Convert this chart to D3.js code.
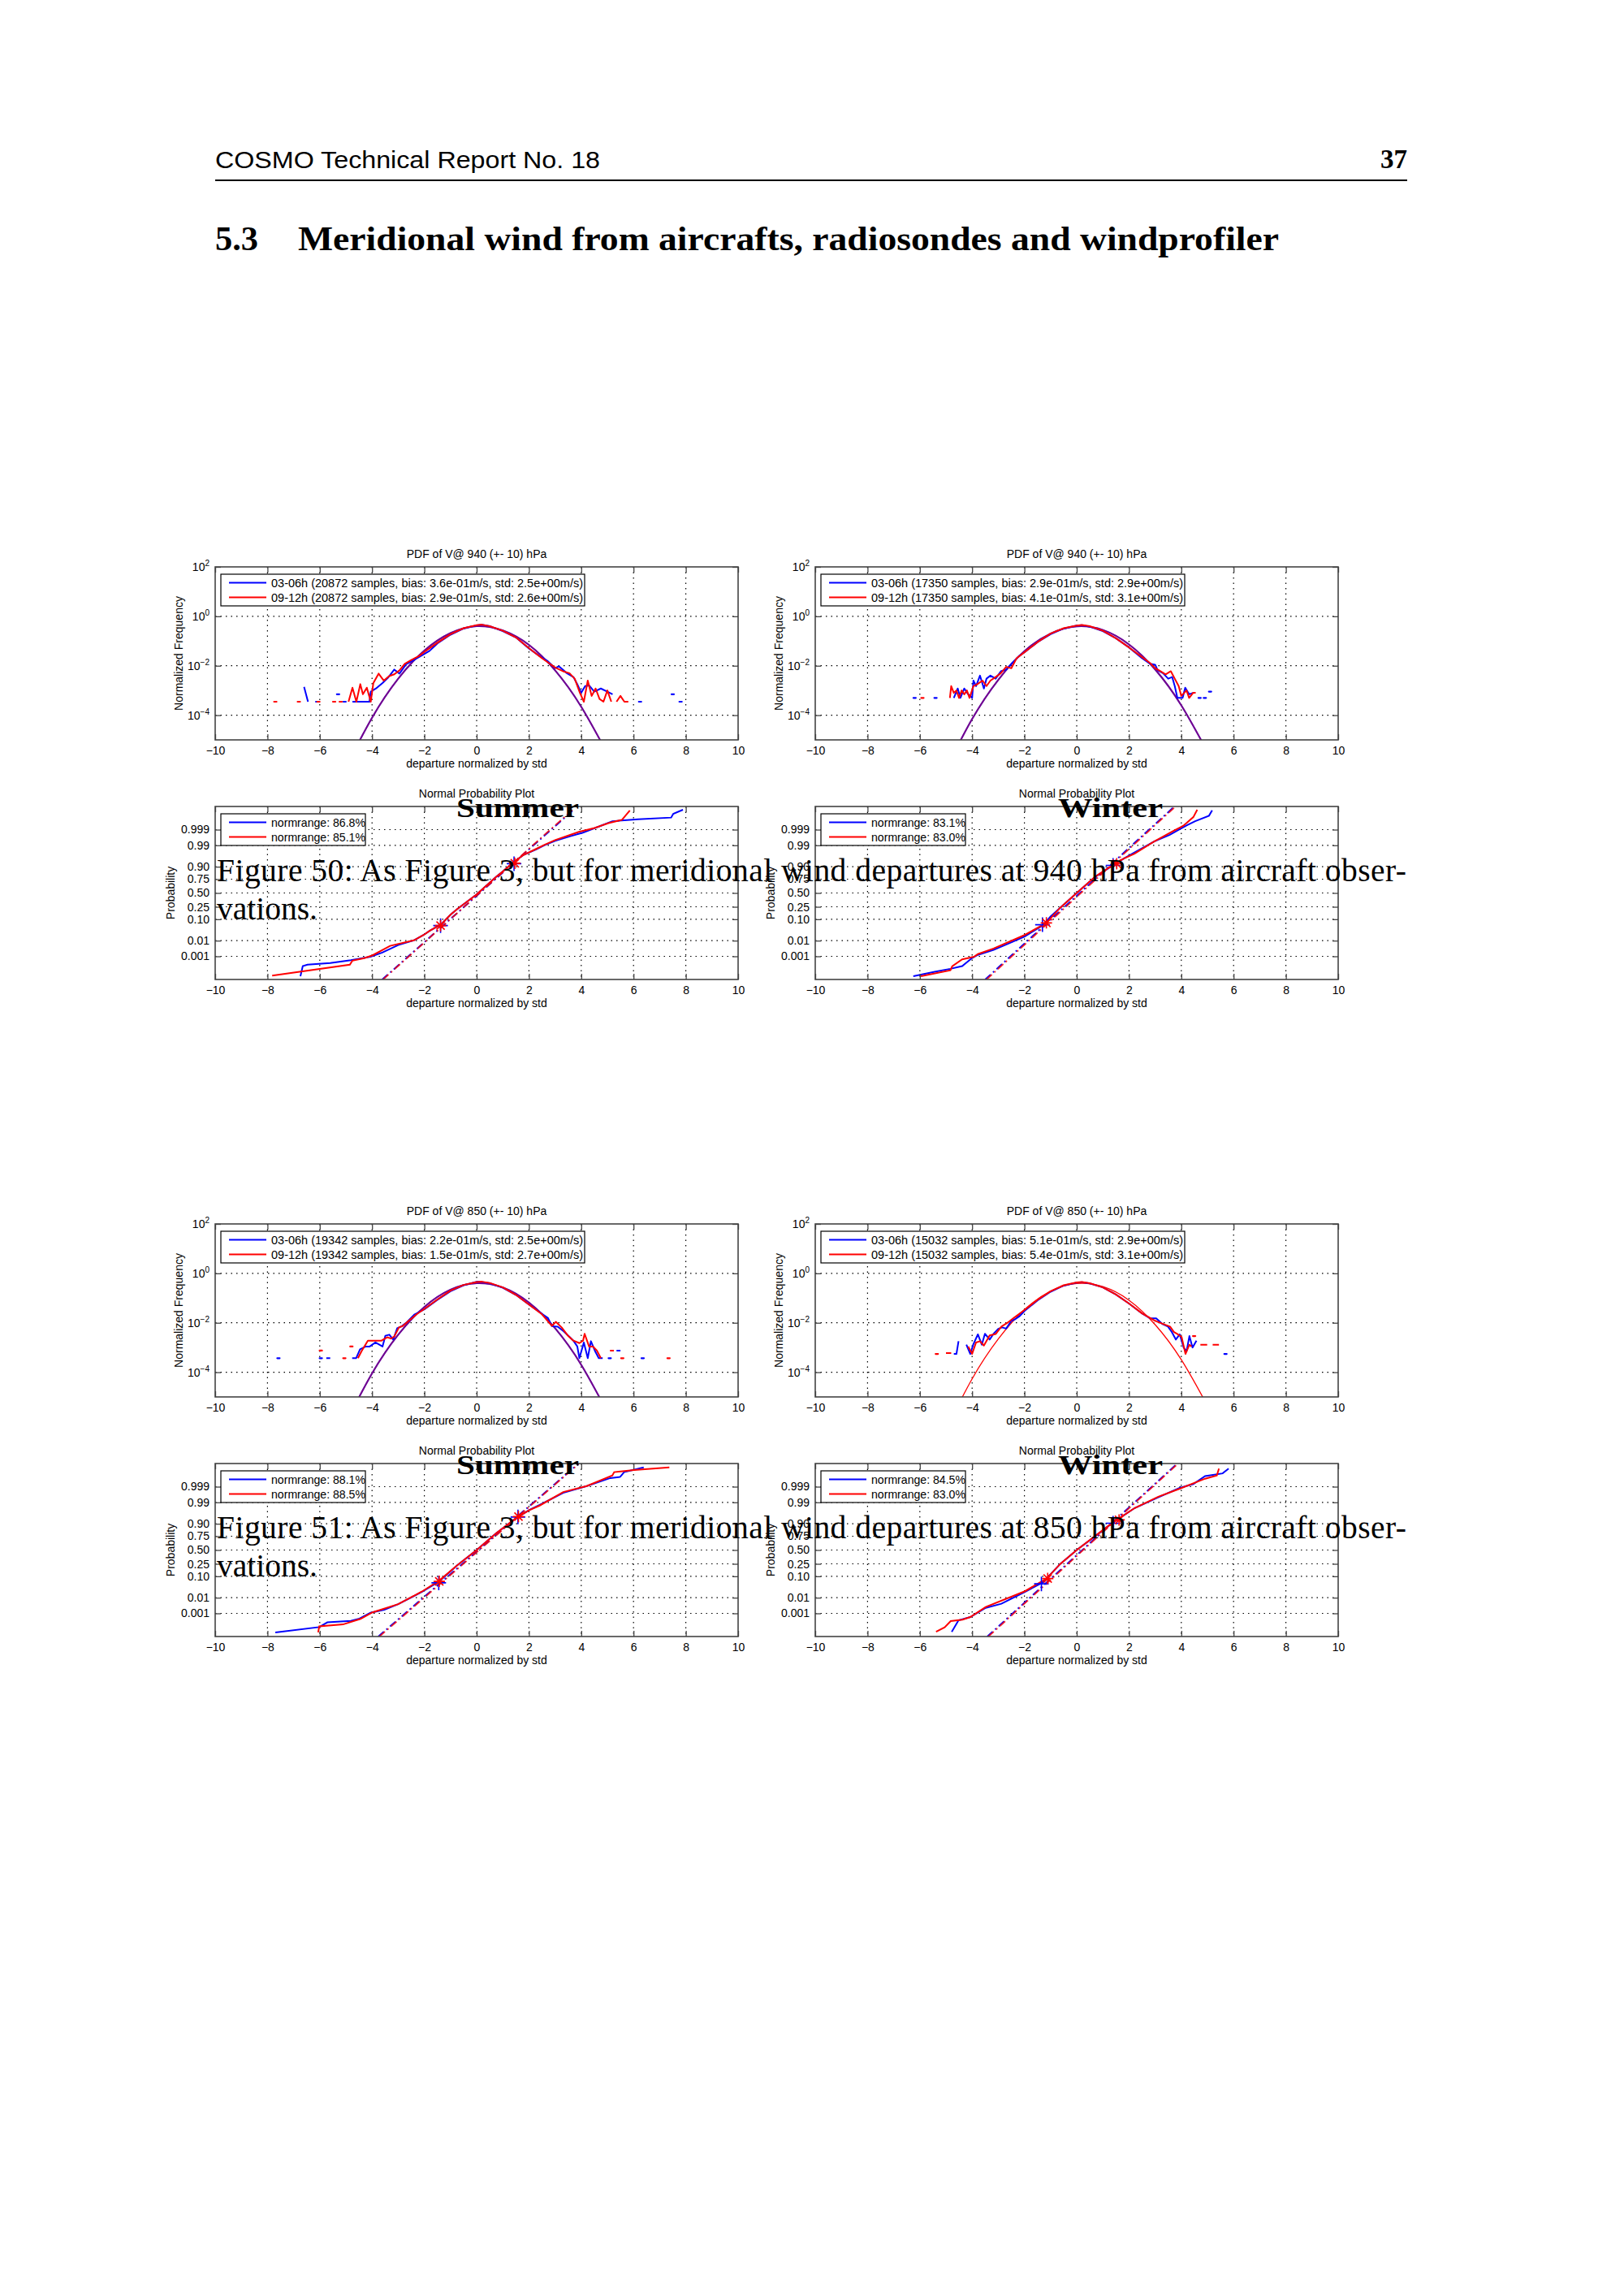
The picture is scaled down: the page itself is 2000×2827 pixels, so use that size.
<!DOCTYPE html>
<html>
<head>
<meta charset="utf-8">
<script src="https://cdn.jsdelivr.net/npm/d3@7"></script>
<style>
  body { margin: 0; background: #fff; }
  svg { display: block; }
</style>
</head>
<body>
<svg id="page" width="2000" height="2827"></svg>
<script>
// ---- figure data ----
const levels = [940, 850];
const seasons = ["Summer", "Winter"];
const hours = ["03-06h", "09-12h"];
const samples = [[20872, 17350], [19342, 15032]];          // [level][season]
const biasEarly = [["3.6e-01", "2.9e-01"], ["2.2e-01", "5.1e-01"]];
const biasLate = [["2.9e-01", "4.1e-01"], ["1.5e-01", "5.4e-01"]];
const stdEarly = [["2.5e+00", "2.9e+00"], ["2.5e+00", "2.9e+00"]];
const stdLate = [["2.6e+00", "3.1e+00"], ["2.7e+00", "3.1e+00"]];
const normrangeEarly = [["86.8", "83.1"], ["88.1", "84.5"]];
const normrangeLate = [["85.1", "83.0"], ["88.5", "83.0"]];
const figureNumbers = [50, 51];

const xTicks = [-10, -8, -6, -4, -2, 0, 2, 4, 6, 8, 10];
const pdfTicks = [1e-4, 1e-2, 1, 1e2];
const pdfTickExp = ["\u22124", "\u22122", "0", "2"];
const probTicks = [0.001, 0.01, 0.10, 0.25, 0.50, 0.75, 0.90, 0.99, 0.999];
const probTickLabels = ["0.001", "0.01", "0.10", "0.25", "0.50", "0.75", "0.90", "0.99", "0.999"];

// fitted normal curves, read at these x positions
const fitX = [-5, -4, -3, -2, -1, 0, 1, 2, 3, 4, 5];
const fit940Summer = [7.8e-7, 7.9e-5, 3.0e-3, 0.041, 0.21, 0.40, 0.27, 0.070, 6.5e-3, 2.2e-4, 2.8e-6];
const fit940Winter = [6.6e-7, 7.0e-5, 2.7e-3, 0.039, 0.20, 0.39, 0.28, 0.073, 7.1e-3, 2.5e-4, 3.3e-6];
const fit850Summer = [9.0e-7, 9.0e-5, 3.3e-3, 0.044, 0.22, 0.40, 0.27, 0.066, 6.0e-3, 2.0e-4, 2.4e-6];
const fit850Winter = [4.8e-7, 5.4e-5, 2.2e-3, 0.034, 0.19, 0.39, 0.29, 0.082, 8.4e-3, 3.2e-4, 4.4e-6];
const fitBlueShown = [[true, true], [true, false]];

// normalized histograms [x, frequency]; null = empty bin
const pdf940SummerBlue = [[-6.6,1.4e-3],[-6.45,3.5e-4],[-6.3,null],[-6.1,3.5e-4],[-5.9,null],[-5.3,7e-4],[-5.2,null],[-5.05,3.5e-4],[-4.9,null],
  [-4.75,3.5e-4],[-4.1,3.5e-4],[-4.05,9e-4],[-3.85,1.2e-3],[-3.6,2e-3],[-3.4,3.2e-3],[-3.15,7e-3],[-2.95,4.8e-3],[-2.7,0.0115],[-2.4,0.017],
  [-2.05,0.028],[-1.8,0.04],[-1.5,0.08],[-1.0,0.18],[-0.5,0.32],[0,0.43],[0.2,0.46],[0.5,0.40],[1.0,0.25],[1.5,0.14],[2.0,0.05],[2.4,0.025],
  [2.7,0.016],[3.0,0.008],[3.15,0.0095],[3.45,5e-3],[3.7,3.5e-3],[3.85,1.8e-3],[4.0,8e-4],[4.15,1.5e-3],[4.3,1.6e-3],[4.5,9e-4],[4.75,1.2e-3],
  [5.0,9e-4],[5.2,7e-4],[5.4,null],[6.25,3.5e-4],[6.5,null],[7.5,7e-4],[7.65,null],[7.8,3.5e-4]];
const pdf940SummerRed = [[-7.7,3.5e-4],[-7.5,null],[-6.8,3.5e-4],[-6.6,null],[-6.05,3.5e-4],[-5.9,null],[-5.45,3.5e-4],[-5.35,null],[-5.2,3.5e-4],[-5.05,null],
  [-4.9,3.5e-4],[-4.75,1.3e-3],[-4.6,3.5e-4],[-4.45,1.8e-3],[-4.35,7e-4],[-4.2,1.3e-3],[-4.05,3.5e-4],[-3.95,2e-3],[-3.75,4.8e-3],[-3.55,2.5e-3],
  [-3.35,3.8e-3],[-3.15,4.5e-3],[-2.95,6.5e-3],[-2.75,0.012],[-2.5,0.017],[-2.2,0.025],[-2.0,0.036],[-1.5,0.085],[-1.0,0.19],[-0.5,0.33],[0,0.44],
  [0.2,0.46],[0.5,0.40],[1.0,0.26],[1.5,0.14],[2.0,0.052],[2.5,0.02],[2.8,0.012],[3.0,0.0085],[3.3,6e-3],[3.55,5e-3],[3.75,3e-3],[3.95,8e-4],
  [4.1,3.5e-4],[4.25,2.5e-3],[4.4,6e-4],[4.55,1.2e-3],[4.7,4.5e-4],[4.85,3.5e-4],[5.0,1e-3],[5.15,3.5e-4],[5.25,null],[5.35,3.5e-4],[5.5,6e-4],
  [5.65,3.5e-4],[5.8,3.5e-4]];
const pdf940WinterBlue = [[-6.2,5e-4],[-6.0,null],[-5.4,5e-4],[-5.2,null],
  [-4.7,5e-4],[-4.55,1.2e-3],[-4.45,5e-4],[-4.3,1.2e-3],[-4.15,7e-4],[-4.0,5e-4],[-3.95,2.5e-3],[-3.85,1.5e-3],[-3.7,4e-3],[-3.55,1.2e-3],
  [-3.45,3e-3],[-3.3,4e-3],[-3.1,3e-3],[-2.9,6e-3],[-2.7,7e-3],[-2.5,0.012],[-2.2,0.025],[-2.0,0.035],[-1.5,0.09],[-1.0,0.19],[-0.5,0.32],
  [0,0.42],[0.2,0.44],[0.5,0.38],[1.0,0.25],[1.5,0.13],[2.0,0.055],[2.5,0.02],[2.8,0.012],[3.0,0.011],[3.1,0.0065],[3.3,5e-3],[3.5,3e-3],
  [3.65,3.5e-3],[3.75,1.5e-3],[3.85,5e-4],[4.05,5e-4],[4.15,1.3e-3],[4.3,7e-4],[4.45,8e-4],[4.55,null],[4.7,5e-4],[4.8,null],[4.9,5e-4],
  [5.0,null],[5.1,9e-4]];
const pdf940WinterRed = [[-5.9,5e-4],[-5.7,null],
  [-4.85,5e-4],[-4.8,1.5e-3],[-4.7,8e-4],[-4.6,1e-3],[-4.5,5e-4],[-4.4,1e-3],[-4.3,7e-4],[-4.2,1e-3],[-4.1,5e-4],[-3.95,1.5e-3],[-3.8,1.8e-3],
  [-3.6,2.5e-3],[-3.45,1.5e-3],[-3.3,2.5e-3],[-3.1,3.5e-3],[-2.9,5e-3],[-2.7,9e-3],[-2.5,8e-3],[-2.3,0.02],[-2.0,0.035],[-1.5,0.09],[-1.0,0.2],
  [-0.5,0.33],[0,0.42],[0.2,0.45],[0.5,0.40],[1.0,0.26],[1.5,0.13],[2.0,0.055],[2.5,0.022],[2.8,0.013],[3.0,0.008],[3.2,0.006],[3.4,0.0045],
  [3.6,6e-3],[3.75,3e-3],[3.9,1.5e-3],[4.0,6e-4],[4.2,1e-3],[4.3,5e-4],[4.45,8e-4],[4.55,8e-4]];
const pdf850SummerBlue = [[-7.58,3.7e-4],[-7.4,null],[-5.96,3.7e-4],[-5.85,null],[-5.75,3.7e-4],[-5.6,3.7e-4],[-5.4,null],
  [-4.76,3.7e-4],[-4.61,3.7e-4],[-4.46,8.5e-4],[-4.24,1.1e-3],[-4.09,1.1e-3],[-3.87,1.6e-3],[-3.6,1.1e-3],[-3.49,3e-3],[-3.34,3.3e-3],
  [-3.19,2.1e-3],[-3.04,6e-3],[-2.89,7e-3],[-2.67,0.0105],[-2.37,0.022],[-2.0,0.035],[-1.5,0.085],[-1.0,0.19],[-0.5,0.33],[0,0.46],[0.2,0.45],
  [0.5,0.40],[1.0,0.26],[1.5,0.135],[2.0,0.055],[2.58,0.02],[2.73,0.0155],[2.88,7.3e-3],[3.1,7e-3],[3.33,4.5e-3],[3.55,2.7e-3],[3.7,1.9e-3],
  [3.85,1.1e-3],[3.93,3.7e-4],[4.1,1.6e-3],[4.25,3.7e-4],[4.37,1.8e-3],[4.52,7.5e-4],[4.67,3.7e-4],[4.82,3.7e-4],[4.95,null],[5.09,3.7e-4],
  [5.2,null],[5.35,7.5e-4],[5.5,7.5e-4],[5.6,null],[6.35,3.7e-4]];
const pdf850SummerRed = [[-5.96,7.5e-4],[-5.8,null],[-5.06,3.7e-4],[-4.95,null],[-4.79,1.1e-3],[-4.65,null],
  [-4.54,3.7e-4],[-4.39,7.5e-4],[-4.16,1.9e-3],[-3.94,1.9e-3],[-3.64,1.9e-3],[-3.42,2.6e-3],[-3.27,2.3e-3],[-3.15,2.8e-3],[-2.97,6.5e-3],
  [-2.82,7.5e-3],[-2.6,0.012],[-2.3,0.022],[-2.0,0.036],[-1.5,0.088],[-1.0,0.2],[-0.5,0.34],[0,0.45],[0.2,0.46],[0.5,0.41],[1.0,0.27],
  [1.5,0.135],[2.0,0.055],[2.5,0.022],[2.88,7.5e-3],[3.03,0.011],[3.25,6.5e-3],[3.48,3.1e-3],[3.7,1.9e-3],[3.93,1.5e-3],[4.07,1.9e-3],
  [4.13,3.6e-3],[4.3,1.1e-3],[4.45,1.1e-3],[4.6,7.5e-4],[4.75,3.7e-4],[4.95,null],[5.1,7.5e-4],[5.25,7.5e-4],[5.4,null],[5.57,3.7e-4],
  [5.7,null],[7.34,3.7e-4]];
const pdf850WinterBlue = [[-4.7,5.5e-4],[-4.6,5.5e-4],[-4.52,1.8e-3],[-4.45,null],
  [-4.22,1.3e-3],[-4.07,5.5e-4],[-3.96,1.3e-3],[-3.78,3.4e-3],[-3.63,1.3e-3],[-3.51,3.6e-3],[-3.33,2.1e-3],[-3.18,3.6e-3],[-3.0,5.7e-3],
  [-2.85,6.5e-3],[-2.7,5.8e-3],[-2.5,0.012],[-2.35,0.014],[-2.2,0.018],[-2.0,0.03],[-1.5,0.08],[-1.0,0.18],[-0.5,0.32],[0,0.42],[0.2,0.44],
  [0.5,0.39],[1.0,0.27],[1.5,0.14],[2.0,0.06],[2.52,0.023],[2.82,0.015],[3.04,0.015],[3.27,9e-3],[3.49,7e-3],[3.64,4.2e-3],[3.79,2.1e-3],
  [3.94,3.4e-3],[4.09,1e-3],[4.2,7e-4],[4.31,2.9e-3],[4.43,1e-3],[4.58,1.9e-3],[4.7,null],[5.69,5.5e-4]];
const pdf850WinterRed = [[-5.35,5.5e-4],[-5.2,null],[-5.0,6e-4],[-4.8,6e-4],[-4.7,null],
  [-4.15,1.1e-3],[-4.0,5.5e-4],[-3.85,1.6e-3],[-3.7,1.8e-3],[-3.55,1.2e-3],[-3.33,3.1e-3],[-3.1,3.5e-3],[-2.88,7e-3],[-2.65,0.01],
  [-2.4,0.016],[-2.0,0.033],[-1.5,0.085],[-1.0,0.19],[-0.5,0.33],[0,0.43],[0.2,0.45],[0.5,0.40],[1.0,0.27],[1.5,0.14],[2.0,0.06],[2.5,0.024],
  [3.0,0.012],[3.3,0.009],[3.57,7e-3],[3.72,4.2e-3],[3.87,3.4e-3],[4.01,2.7e-3],[4.16,5.5e-4],[4.31,1.3e-3],[4.39,1.1e-3],[4.45,null],
  [4.49,2.9e-3],[4.6,null],[4.73,1.3e-3],[4.99,1.3e-3],[5.1,null],[5.2,1.3e-3],[5.44,1.3e-3]];

// normal probability plots [x, normal quantile z]
const prob940SummerBlue = [[-6.74,-4.06],[-6.65,-3.57],[-6.47,-3.5],[-5.6,-3.42],[-4.81,-3.28],[-4.06,-3.11],[-3.61,-2.91],[-3.0,-2.54],
  [-2.4,-2.31],[-2.03,-2.05],[-1.8,-1.85],[-1.35,-1.52],[-1.0,-1.06],[-0.75,-0.79],[0,-0.07],[0.75,0.79],[1.0,1.05],[1.43,1.52],[1.8,1.86],
  [2.26,2.12],[2.6,2.33],[3.0,2.54],[3.61,2.78],[4.06,2.94],[4.81,3.31],[5.19,3.5],[6.17,3.6],[7.44,3.68],[7.52,3.86],[7.89,4.06]];
const prob940SummerRed = [[-7.82,-4.03],[-4.85,-3.5],[-4.75,-3.3],[-4.3,-3.18],[-3.98,-3.04],[-3.31,-2.58],[-2.4,-2.31],[-2.03,-2.05],
  [-1.8,-1.85],[-1.35,-1.52],[-1.0,-1.06],[-0.75,-0.79],[0,-0.07],[0.75,0.79],[1.0,1.05],[1.43,1.52],[1.8,1.86],[2.26,2.14],[2.6,2.35],
  [3.0,2.58],[3.91,2.98],[4.51,3.17],[5.04,3.41],[5.56,3.57],[5.86,4.03]];
const prob940WinterBlue = [[-6.25,-4.06],[-5.43,-3.84],[-4.83,-3.7],[-4.38,-3.57],[-4.0,-3.17],[-3.78,-3.02],[-3.18,-2.78],[-2.58,-2.45],
  [-1.99,-2.12],[-1.31,-1.59],[-1.0,-1.15],[-0.64,-0.73],[0,0],[0.71,0.79],[1.39,1.35],[1.8,1.68],[2.21,1.98],[2.96,2.51],[3.56,2.84],
  [3.93,3.11],[4.23,3.31],[4.53,3.5],[5.06,3.77],[5.18,4.03]];
const prob940WinterRed = [[-5.96,-4.06],[-4.83,-3.77],[-4.76,-3.57],[-4.38,-3.24],[-3.93,-3.11],[-3.78,-2.98],[-3.18,-2.71],[-1.99,-2.05],
  [-1.16,-1.46],[-0.64,-0.73],[0,0],[0.71,0.8],[1.39,1.37],[1.8,1.68],[2.21,1.92],[2.96,2.51],[3.71,3.04],[4.08,3.28],[4.46,3.7],[4.61,4.06]];
const prob850SummerBlue = [[-7.7,-4.02],[-6.02,-3.76],[-5.71,-3.53],[-4.81,-3.46],[-4.51,-3.36],[-4.06,-3.06],[-3.53,-2.91],[-3.0,-2.64],
  [-2.1,-2.05],[-1.43,-1.53],[-0.75,-0.75],[0,0],[0.75,0.82],[1.5,1.54],[2.0,1.95],[2.41,2.2],[3.31,2.79],[4.21,3.12],[5.11,3.51],
  [5.49,3.57],[5.64,3.8],[6.39,4.03]];
const prob850SummerRed = [[-6.06,-4.02],[-6.02,-3.72],[-5.11,-3.63],[-4.44,-3.36],[-3.98,-3.04],[-3.0,-2.64],[-2.1,-2.03],[-1.43,-1.49],
  [-0.75,-0.75],[0,0],[0.75,0.82],[1.5,1.55],[2.0,1.94],[2.41,2.17],[3.31,2.83],[4.21,3.12],[5.19,3.64],[5.26,3.8],[6.02,3.9],[7.37,4.03]];
const prob850WinterBlue = [[-4.78,-3.99],[-4.52,-3.43],[-4.07,-3.27],[-3.48,-2.82],[-2.88,-2.62],[-1.98,-2.04],[-1.3,-1.58],[-0.63,-0.68],
  [0,0],[0.72,0.69],[1.39,1.34],[2.22,2.05],[3.12,2.57],[3.94,3.03],[4.46,3.22],[4.91,3.61],[5.58,3.74],[5.81,3.97]];
const prob850WinterRed = [[-5.38,-3.99],[-5.05,-3.77],[-4.82,-3.47],[-4.37,-3.4],[-4.07,-3.27],[-3.48,-2.78],[-1.98,-2.01],[-1.15,-1.39],
  [-0.63,-0.68],[0,0],[0.72,0.7],[1.39,1.35],[2.22,2.05],[3.12,2.6],[3.94,2.99],[4.91,3.48],[5.36,3.64],[5.44,3.97]];

// dash-dot reference lines and quartile markers [x, z]
const refBlue = [[[[-3.61,-4.22],[3.68,4.03]], [[-3.5,-4.22],[3.72,4.2]]], [[[-3.76,-4.22],[3.9,4.22]], [[-3.42,-4.22],[3.77,4.13]]]];
const refRed = [[[[-3.58,-4.22],[3.66,4.05]], [[-3.45,-4.22],[3.76,4.2]]], [[[-3.72,-4.22],[3.92,4.22]], [[-3.38,-4.22],[3.8,4.13]]]];
const markBlue = [[[[-1.38,-1.59],[1.43,1.43]], [[-1.31,-1.55],[1.39,1.35]]], [[[-1.45,-1.6],[1.58,1.61]], [[-1.35,-1.65],[1.39,1.31]]]];
const markRed = [[[[-1.38,-1.59],[1.46,1.45]], [[-1.16,-1.46],[1.53,1.43]]], [[[-1.43,-1.53],[1.6,1.63]], [[-1.11,-1.39],[1.62,1.47]]]];

// ---- layout ----
const plotFont = "Liberation Sans";
const pageFont = "Liberation Serif";
const blue = "#0000ff", red = "#ff0000";
const panelLeft = [265, 1004];
const plotW = 644, plotH = 213;
const pdfTop = 698, probTop = 993, blockShift = 809;

const pdfBlue = [[pdf940SummerBlue, pdf940WinterBlue], [pdf850SummerBlue, pdf850WinterBlue]];
const pdfRed = [[pdf940SummerRed, pdf940WinterRed], [pdf850SummerRed, pdf850WinterRed]];
const fits = [[fit940Summer, fit940Winter], [fit850Summer, fit850Winter]];
const probBlue = [[prob940SummerBlue, prob940WinterBlue], [prob850SummerBlue, prob850WinterBlue]];
const probRed = [[prob940SummerRed, prob940WinterRed], [prob850SummerRed, prob850WinterRed]];

const svg = d3.select("#page");
svg.append("rect").attr("width", 2000).attr("height", 2827).attr("fill", "#fff");

// inverse standard normal CDF (Acklam) for the probability axis
function probit(p) {
  const a = [-3.969683028665376e+01, 2.209460984245205e+02, -2.759285104469687e+02, 1.383577518672690e+02, -3.066479806614716e+01, 2.506628277459239e+00];
  const b = [-5.447609879822406e+01, 1.615858368580409e+02, -1.556989798598866e+02, 6.680131188771972e+01, -1.328068155288572e+01];
  const c = [-7.784894002430293e-03, -3.223964580411365e-01, -2.400758277161838e+00, -2.549732539343734e+00, 4.374664141464968e+00, 2.938163982698783e+00];
  const d = [7.784695709041462e-03, 3.224671290700398e-01, 2.445134137142996e+00, 3.754408661907416e+00];
  const lo = 0.02425;
  if (p < lo) {
    const q = Math.sqrt(-2 * Math.log(p));
    return (((((c[0]*q+c[1])*q+c[2])*q+c[3])*q+c[4])*q+c[5]) / ((((d[0]*q+d[1])*q+d[2])*q+d[3])*q+1);
  }
  if (p <= 1 - lo) {
    const q = p - 0.5, r = q * q;
    return (((((a[0]*r+a[1])*r+a[2])*r+a[3])*r+a[4])*r+a[5])*q / (((((b[0]*r+b[1])*r+b[2])*r+b[3])*r+b[4])*r+1);
  }
  const q = Math.sqrt(-2 * Math.log(1 - p));
  return -(((((c[0]*q+c[1])*q+c[2])*q+c[3])*q+c[4])*q+c[5]) / ((((d[0]*q+d[1])*q+d[2])*q+d[3])*q+1);
}

function styleAxis(sel) {
  sel.attr("font-family", plotFont).attr("font-size", 14);
  sel.select(".domain").remove();
  sel.selectAll(".tick line").attr("stroke", "#444").attr("stroke-width", 1.3);
  sel.selectAll(".tick text").attr("fill", "#000");
}

function frame(g, x, y, left, top, yTickValues, yFormat) {
  g.append("g").attr("transform", `translate(0,${top + plotH})`)
    .call(d3.axisBottom(x).tickValues(xTicks).tickSizeInner(-7).tickSizeOuter(0).tickPadding(8).tickFormat(d3.format("d")))
    .call(styleAxis);
  g.append("g").attr("transform", `translate(0,${top})`)
    .call(d3.axisTop(x).tickValues(xTicks).tickSizeInner(-7).tickSizeOuter(0).tickFormat(() => ""))
    .call(styleAxis);
  const yl = g.append("g").attr("transform", `translate(${left},0)`)
    .call(d3.axisLeft(y).tickValues(yTickValues).tickSizeInner(-7).tickSizeOuter(0).tickPadding(7).tickFormat(yFormat))
    .call(styleAxis);
  g.append("g").attr("transform", `translate(${left + plotW},0)`)
    .call(d3.axisRight(y).tickValues(yTickValues).tickSizeInner(-7).tickSizeOuter(0).tickFormat(() => ""))
    .call(styleAxis);
  g.append("rect").attr("x", left).attr("y", top).attr("width", plotW).attr("height", plotH)
    .attr("fill", "none").attr("stroke", "#444").attr("stroke-width", 1.6);
  return yl;
}

function grid(g, x, y, left, top, yValues) {
  const gg = g.append("g").attr("stroke", "#000").attr("stroke-width", 1.2).attr("stroke-dasharray", "1.5,5");
  gg.selectAll(".gx").data(xTicks.slice(1, -1)).join("line")
    .attr("x1", d => x(d)).attr("x2", d => x(d)).attr("y1", top).attr("y2", top + plotH);
  gg.selectAll(".gy").data(yValues).join("line")
    .attr("x1", left).attr("x2", left + plotW).attr("y1", d => y(d)).attr("y2", d => y(d));
}

function legend(g, bx, by, w, labels, textLen) {
  g.append("rect").attr("x", bx).attr("y", by).attr("width", w).attr("height", 39)
    .attr("fill", "#fff").attr("stroke", "#000").attr("stroke-width", 1.2);
  labels.forEach((t, i) => {
    const ry = by + 10.5 + i * 18;
    g.append("line").attr("x1", bx + 10).attr("x2", bx + 56).attr("y1", ry).attr("y2", ry)
      .attr("stroke", i === 0 ? blue : red).attr("stroke-width", 2);
    const tx = g.append("text").attr("x", bx + 62).attr("y", ry + 5)
      .attr("font-family", plotFont).attr("font-size", 14.5).text(t);
    if (textLen) tx.attr("textLength", textLen).attr("lengthAdjust", "spacingAndGlyphs");
  });
}

function labels(g, left, top, title, ylabel, ylabelX) {
  const cx = left + plotW / 2;
  g.append("text").attr("x", cx).attr("y", top - 11).attr("text-anchor", "middle")
    .attr("font-family", plotFont).attr("font-size", 14).text(title);
  g.append("text").attr("x", cx).attr("y", top + plotH + 34).attr("text-anchor", "middle")
    .attr("font-family", plotFont).attr("font-size", 14).text("departure normalized by std");
  g.append("text").attr("transform", `translate(${ylabelX},${top + plotH / 2}) rotate(-90)`)
    .attr("text-anchor", "middle").attr("font-family", plotFont).attr("font-size", 14).text(ylabel);
}

function drawPdf(li, si) {
  const left = panelLeft[si], top = pdfTop + li * blockShift;
  const x = d3.scaleLinear().domain([-10, 10]).range([left, left + plotW]);
  const y = d3.scaleLog().domain([1e-5, 1e2]).range([top + plotH, top]);
  const g = svg.append("g");
  const clip = `clip-pdf-${li}-${si}`;
  g.append("clipPath").attr("id", clip).append("rect")
    .attr("x", left).attr("y", top).attr("width", plotW).attr("height", plotH);

  grid(g, x, y, left, top, pdfTicks.slice(0, -1));

  const plot = g.append("g").attr("clip-path", `url(#${clip})`).attr("fill", "none");
  const fitLine = d3.line().x((d, i) => x(fitX[i])).y(d => y(d)).curve(d3.curveNatural);
  if (fitBlueShown[li][si]) {
    plot.append("path").attr("d", fitLine(fits[li][si])).attr("stroke", blue).attr("stroke-width", 2);
    plot.append("path").attr("d", fitLine(fits[li][si])).attr("stroke", red).attr("stroke-width", 2).attr("stroke-opacity", 0.45);
  } else {
    plot.append("path").attr("d", fitLine(fits[li][si])).attr("stroke", red).attr("stroke-width", 1.3);
  }

  const hist = d3.line().defined(d => d[1] != null).x(d => x(d[0])).y(d => y(d[1]));
  [[pdfBlue[li][si], blue], [pdfRed[li][si], red]].forEach(([data, col]) => {
    plot.append("path").attr("d", hist(data)).attr("stroke", col).attr("stroke-width", 2).attr("stroke-linejoin", "round");
    const lone = data.filter((d, i) => d[1] != null &&
      (i === 0 || data[i - 1][1] == null) && (i === data.length - 1 || data[i + 1][1] == null));
    plot.selectAll(null).data(lone).join("line")
      .attr("x1", d => x(d[0]) - 1.5).attr("x2", d => x(d[0]) + 1.5)
      .attr("y1", d => y(d[1])).attr("y2", d => y(d[1]))
      .attr("stroke", col).attr("stroke-width", 2.2).attr("stroke-linecap", "round");
  });

  const yl = frame(g, x, y, left, top, pdfTicks, () => "");
  yl.selectAll(".tick text").each(function (d, i) {
    const t = d3.select(this);
    t.append("tspan").text("10");
    t.append("tspan").attr("dy", "-0.55em").attr("font-size", 10).text(pdfTickExp[i]);
  });

  const n = samples[li][si];
  legend(g, left + 7, top + 9, 448, [
    `${hours[0]} (${n} samples, bias: ${biasEarly[li][si]}m/s, std: ${stdEarly[li][si]}m/s)`,
    `${hours[1]} (${n} samples, bias: ${biasLate[li][si]}m/s, std: ${stdLate[li][si]}m/s)`
  ], 384);
  labels(g, left, top, `PDF of V@ ${levels[li]} (+- 10) hPa`, "Normalized Frequency", left - 40);
}

function drawProb(li, si) {
  const left = panelLeft[si], top = probTop + li * blockShift;
  const x = d3.scaleLinear().domain([-10, 10]).range([left, left + plotW]);
  const y = d3.scaleLinear().domain([-4.22, 4.22]).range([top + plotH, top]);
  const g = svg.append("g");
  const clip = `clip-prob-${li}-${si}`;
  g.append("clipPath").attr("id", clip).append("rect")
    .attr("x", left).attr("y", top).attr("width", plotW).attr("height", plotH);
  const zTicks = probTicks.map(probit);

  grid(g, x, y, left, top, zTicks);

  const plot = g.append("g").attr("clip-path", `url(#${clip})`).attr("fill", "none");
  const line = d3.line().x(d => x(d[0])).y(d => y(d[1]));
  plot.append("path").attr("d", line(probBlue[li][si])).attr("stroke", blue).attr("stroke-width", 2);
  plot.append("path").attr("d", line(refBlue[li][si])).attr("stroke", blue).attr("stroke-width", 2)
    .attr("stroke-dasharray", "9,4,2,4");
  plot.append("path").attr("d", line(probRed[li][si])).attr("stroke", red).attr("stroke-width", 2);
  plot.append("path").attr("d", line(refRed[li][si])).attr("stroke", red).attr("stroke-width", 2)
    .attr("stroke-dasharray", "9,4,2,4").attr("stroke-opacity", 0.8);

  // quartile markers: blue '+', red '*'
  markBlue[li][si].forEach(d => {
    const px = x(d[0]), py = y(d[1]), s = 9;
    plot.append("path").attr("d", `M${px - s},${py}H${px + s}M${px},${py - s}V${py + s}`)
      .attr("stroke", blue).attr("stroke-width", 1.6);
  });
  markRed[li][si].forEach(d => {
    const px = x(d[0]), py = y(d[1]), s = 7, k = s * 0.72;
    plot.append("path")
      .attr("d", `M${px - s},${py}H${px + s}M${px},${py - s}V${py + s}M${px - k},${py - k}L${px + k},${py + k}M${px - k},${py + k}L${px + k},${py - k}`)
      .attr("stroke", red).attr("stroke-width", 1.6);
  });

  frame(g, x, y, left, top, zTicks, (d, i) => probTickLabels[i]);

  legend(g, left + 7, top + 9, 178, [
    `normrange: ${normrangeEarly[li][si]}%`,
    `normrange: ${normrangeLate[li][si]}%`
  ], 116);
  labels(g, left, top, "Normal Probability Plot", "Probability", left - 50);
}

// ---- page header ----
svg.append("text").attr("x", 265).attr("y", 207).attr("font-family", plotFont).attr("font-size", 29)
  .attr("textLength", 474).attr("lengthAdjust", "spacingAndGlyphs").text("COSMO Technical Report No. 18");
svg.append("text").attr("x", 1733).attr("y", 207).attr("text-anchor", "end").attr("font-family", pageFont)
  .attr("font-weight", "bold").attr("font-size", 33).text("37");
svg.append("line").attr("x1", 265).attr("x2", 1733).attr("y1", 222).attr("y2", 222)
  .attr("stroke", "#000").attr("stroke-width", 1.8);
svg.append("text").attr("x", 265).attr("y", 308).attr("font-family", pageFont).attr("font-weight", "bold")
  .attr("font-size", 42).attr("textLength", 53).attr("lengthAdjust", "spacingAndGlyphs").text("5.3");
svg.append("text").attr("x", 367).attr("y", 308).attr("font-family", pageFont).attr("font-weight", "bold")
  .attr("font-size", 42).attr("textLength", 1208).attr("lengthAdjust", "spacingAndGlyphs")
  .text("Meridional wind from aircrafts, radiosondes and windprofiler");

// ---- panels ----
levels.forEach((lev, li) => {
  seasons.forEach((s, si) => {
    drawPdf(li, si);
    drawProb(li, si);
  });
});

// ---- captions and season labels drawn over the figures ----
levels.forEach((lev, li) => {
  const dy = li * blockShift;
  svg.append("text").attr("x", 562).attr("y", 1006 + dy).attr("font-family", pageFont).attr("font-weight", "bold")
    .attr("font-size", 34).attr("textLength", 151).attr("lengthAdjust", "spacingAndGlyphs").text(seasons[0]);
  svg.append("text").attr("x", 1303).attr("y", 1006 + dy).attr("font-family", pageFont).attr("font-weight", "bold")
    .attr("font-size", 34).attr("textLength", 129).attr("lengthAdjust", "spacingAndGlyphs").text(seasons[1]);
  svg.append("text").attr("x", 267).attr("y", 1085 + dy).attr("font-family", pageFont).attr("font-size", 39.5)
    .attr("textLength", 1465).attr("lengthAdjust", "spacing")
    .text(`Figure ${figureNumbers[li]}: As Figure 3, but for meridional wind departures at ${lev} hPa from aircraft obser-`);
  svg.append("text").attr("x", 267).attr("y", 1132 + dy).attr("font-family", pageFont).attr("font-size", 39.5)
    .text("vations.");
});
</script>
</body>
</html>
